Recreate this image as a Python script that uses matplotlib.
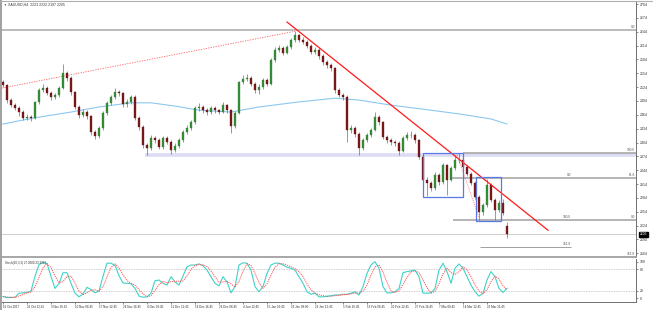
import matplotlib
matplotlib.use('Agg')
import matplotlib.pyplot as plt
import numpy as np
import pandas as pd
from matplotlib.patches import Rectangle

plt.rcParams['font.family'] = ['Liberation Sans', 'DejaVu Sans']

# ---------------- data ----------------
closes = [2529, 2496, 2485, 2479, 2470, 2457, 2459, 2457, 2492, 2518,
          2522, 2511, 2503, 2507, 2522, 2555, 2544, 2513, 2481, 2464,
          2470, 2461, 2427, 2418, 2435, 2468, 2490, 2503, 2513, 2511,
          2487, 2492, 2503, 2457, 2438, 2399, 2392, 2414, 2409, 2394,
          2414, 2405, 2388, 2396, 2409, 2427, 2435, 2448, 2479, 2481,
          2474, 2470, 2479, 2474, 2470, 2485, 2474, 2440, 2468, 2535,
          2542, 2544, 2531, 2518, 2524, 2539, 2531, 2583, 2604, 2609,
          2598, 2611, 2626, 2637, 2626, 2622, 2613, 2600, 2604, 2591,
          2578, 2572, 2565, 2518, 2507, 2503, 2431, 2435, 2422, 2392,
          2409, 2420, 2431, 2459, 2448, 2416, 2409, 2405, 2403, 2386,
          2414, 2420, 2420, 2409, 2373, 2323, 2316, 2305, 2334, 2318,
          2355, 2323, 2349, 2366, 2366, 2351, 2336, 2316, 2286, 2253,
          2269, 2312, 2280, 2258, 2273, 2251, 2205]
highs = [2540, 2531, 2500, 2490, 2483, 2474, 2466, 2463, 2495, 2522,
         2530, 2526, 2515, 2512, 2526, 2574, 2560, 2548, 2516, 2486,
         2476, 2474, 2464, 2432, 2440, 2472, 2494, 2508, 2522, 2518,
         2514, 2498, 2508, 2506, 2461, 2442, 2404, 2420, 2418, 2413,
         2419, 2418, 2409, 2402, 2414, 2431, 2442, 2453, 2484, 2490,
         2485, 2478, 2484, 2483, 2477, 2492, 2488, 2477, 2472, 2538,
         2550, 2552, 2548, 2535, 2530, 2544, 2543, 2588, 2610, 2616,
         2613, 2616, 2631, 2645, 2640, 2632, 2626, 2617, 2611, 2608,
         2595, 2583, 2577, 2568, 2522, 2512, 2506, 2441, 2440, 2426,
         2414, 2425, 2436, 2470, 2463, 2451, 2420, 2414, 2410, 2407,
         2418, 2426, 2428, 2424, 2412, 2376, 2330, 2320, 2340, 2338,
         2360, 2358, 2354, 2376, 2382, 2370, 2355, 2340, 2320, 2290,
         2274, 2324, 2316, 2284, 2280, 2282, 2232]
lows = [2524, 2490, 2480, 2474, 2462, 2452, 2453, 2450, 2455, 2488,
        2514, 2506, 2496, 2498, 2503, 2519, 2538, 2508, 2476, 2458,
        2460, 2455, 2420, 2412, 2414, 2432, 2464, 2486, 2498, 2505,
        2482, 2480, 2488, 2452, 2432, 2393, 2377, 2388, 2403, 2389,
        2390, 2400, 2379, 2384, 2392, 2405, 2423, 2431, 2444, 2473,
        2468, 2464, 2466, 2469, 2465, 2467, 2469, 2425, 2436, 2465,
        2530, 2537, 2526, 2512, 2510, 2520, 2526, 2528, 2579, 2600,
        2594, 2595, 2607, 2622, 2621, 2617, 2608, 2595, 2596, 2586,
        2573, 2566, 2560, 2512, 2502, 2497, 2405, 2425, 2417, 2378,
        2388, 2405, 2416, 2428, 2443, 2411, 2404, 2398, 2396, 2378,
        2383, 2410, 2414, 2404, 2368, 2316, 2288, 2298, 2302, 2313,
        2315, 2290, 2320, 2344, 2360, 2346, 2331, 2311, 2281, 2236,
        2248, 2265, 2275, 2237, 2254, 2246, 2197]
first_open = 2535
gap_opens = {126: 2223}

ma_idx = [0, 4, 9, 17, 24, 32, 37, 43, 49, 57, 64, 74, 83, 89, 97, 107, 114, 122, 126]
ma_val = [2444, 2451, 2459, 2470, 2481, 2490, 2490, 2483, 2474, 2470, 2481, 2492,
          2500, 2496, 2485, 2474, 2466, 2455, 2444]

stoch_main = [5, 2, 2, 3, 14, 15, 16, 20, 60, 92,
              98, 95, 60, 27, 40, 70, 70, 41, 14, 4,
              12, 30, 24, 15, 20, 60, 96, 96, 90, 62,
              42, 41, 40, 27, 6, 3, 4, 14, 48, 50,
              41, 36, 59, 45, 36, 61, 86, 91, 91, 94,
              89, 77, 59, 41, 34, 59, 45, 15, 32, 91,
              97, 96, 77, 32, 18, 32, 68, 91, 96, 96,
              91, 85, 82, 77, 59, 41, 18, 11, 14, 4,
              4, 6, 7, 9, 9, 11, 11, 14, 18, 9,
              32, 68, 91, 100, 82, 32, 15, 15, 18, 27,
              70, 73, 75, 77, 59, 14, 14, 15, 27, 77,
              96, 73, 41, 82, 94, 82, 59, 36, 18, 6,
              14, 50, 73, 59, 27, 16, 27]

price_ticks = [2704, 2674, 2644, 2614, 2584, 2554, 2524, 2494, 2464, 2434, 2404,
               2374, 2344, 2314, 2284, 2254, 2224, 2194, 2164]
stoch_ticks = [100, 80, 20, 0]
date_ticks = [0, 6, 12, 18, 24, 30, 36, 42, 48, 54, 60, 66, 72, 78, 85, 91, 97, 103, 109, 115, 121]
date_labels = ["16 Oct 2017", "26 Oct 12:45", "3 Nov 16:45", "10 Nov 08:45", "17 Nov 12:45",
               "24 Nov 16:45", "4 Dec 08:45", "11 Dec 12:45", "18 Dec 16:45", "28 Dec 08:45",
               "4 Jan 12:45", "15 Jan 16:45", "23 Jan 08:00", "29 Jan 12:45", "5 Feb 16:45",
               "13 Feb 08:45", "20 Feb 12:45", "27 Feb 16:45", "7 Mar 08:45", "14 Mar 12:45",
               "21 Mar 16:45"]

# fib / drawing objects (bar index, price)
fib_top = 2648
band_level = 2377
fib_lines = [  # (price, x_start, x_end)
    (2381, 115.0, 158.25),
    (2327, 112.25, 158.25),
    (2236, 112.5, 158.25),
    (2178, 119.25, 142.0),
]
fib_texts = [  # (x, price, text)
    (158.0, 2650, "0.0"), (158.0, 2383, "100.0"),
    (142.0, 2329, "0.0"), (158.0, 2329, "61.8"),
    (142.0, 2238, "100.0"), (158.0, 2238, "0.0"),
    (142.0, 2180, "161.8"), (158.0, 2158, "161.8"),
]
trend_red = ([71, 136.25], [2665, 2214])
dotted_up = ([-0.25, 73], [2522, 2645])
dotted_box = ([113.5, 119.25], [2377, 2236])
boxes = [(104.9, 115.1, 2285, 2381), (118.2, 124.5, 2235, 2329)]

# ---------------- figure ----------------
W, H = 653, 310
fig = plt.figure(figsize=(W / 100, H / 100), dpi=100)
fig.patch.set_facecolor('white')

def fx(px):
    return px / W

def fy(py):
    return 1 - py / H

ax = fig.add_axes([fx(2), fy(257), fx(636) - fx(2), fy(2) - fy(257)])
axs = fig.add_axes([fx(2), fy(301.5), fx(636) - fx(2), fy(259) - fy(301.5)])

n = len(closes)
x = np.arange(n)
opens = [first_open] + closes[:-1]
for k, v in gap_opens.items():
    opens[k] = v
o = np.array(opens, float)
c = np.array(closes, float)
h = np.array(highs, float)
l = np.array(lows, float)

xlim = (-0.25, 158.25)

# price line
ax.axhline(c[-1], color='#c8c8c8', lw=0.6, zorder=1)
# band and fib lines
ax.plot([35.5, 158.25], [band_level, band_level], color='#dcdcf4', lw=2.6, zorder=1,
        solid_capstyle='butt')
ax.plot(list(xlim), [fib_top, fib_top], color='#a8a8a8', lw=1.1, zorder=1)
for p, xa, xb in fib_lines:
    ax.plot([xa, xb], [p, p], color='#a0a0a0', lw=1.1 if xb > 150 else 0.7, zorder=1,
            solid_capstyle='butt')
for xt, p, t in fib_texts:
    ax.text(xt, p, t, fontsize=2.3, color='#555555', ha='right', va='bottom', zorder=5)

# MA
ax.plot(ma_idx, ma_val, color='#8cc8f0', lw=0.8, zorder=2)

# candles
ax.vlines(x, l, h, color='#606060', lw=0.45, zorder=3)
up = c >= o
body_lo = np.minimum(o, c)
body_h = np.maximum(np.abs(c - o), 1.0)
ax.bar(x[up], body_h[up], bottom=body_lo[up], width=0.5, color='#338f33',
       edgecolor='#3a7a3a', linewidth=0.25, zorder=4)
ax.bar(x[~up], body_h[~up], bottom=body_lo[~up], width=0.5, color='#7d1818',
       edgecolor='#601414', linewidth=0.25, zorder=4)

# trend lines
ax.plot(*trend_red, color='#ff1a1a', lw=0.9, zorder=5)
ax.plot(*dotted_up, color='#ff6060', lw=0.6, ls=(0, (1.5, 1.5)), zorder=2)
ax.plot(*dotted_box, color='#ff6060', lw=0.5, ls=(0, (1.5, 1.5)), zorder=5)
for xa, xb, pa, pb in boxes:
    ax.add_patch(Rectangle((xa, pa), xb - xa, pb - pa, fill=False,
                           edgecolor='#5a78e6', lw=0.9, zorder=5))

ax.set_xlim(*xlim)
ax.set_ylim(2156.0, 2708.4)
ax.set_xticks([])
ax.yaxis.tick_right()
ax.set_yticks(price_ticks)
ax.set_yticklabels([str(t) for t in price_ticks])
ax.tick_params(axis='y', labelsize=2.5, length=1.5, width=0.4, pad=1.2, colors='#333333')
for s in ['left', 'top']:
    ax.spines[s].set_visible(False)
ax.spines['right'].set_color('#707070')
ax.spines['right'].set_linewidth(0.7)
ax.spines['bottom'].set_color('#a0a0a0')
ax.spines['bottom'].set_linewidth(1.3)

# current price box
ax.text(1.006, (c[-1] - 2156.0) / (2708.4 - 2156.0), f"{int(c[-1])}", transform=ax.transAxes,
        fontsize=2.4, color='white', ha='left', va='center',
        bbox=dict(boxstyle='square,pad=0.25', fc='black', ec='black'))

# title
fig.text(fx(3), fy(5), '\u25bc', fontsize=2.0, color='#333333', va='center', ha='left')
fig.text(fx(8), fy(5), f"XAUUSD,H4  {int(o[-1])} {int(h[-1])} {int(l[-1])} {int(c[-1])}",
         fontsize=2.5, color='#333333', va='center', ha='left')

# ---------------- stochastic ----------------
sm = pd.Series(stoch_main, dtype=float)
sig = sm.rolling(3, min_periods=1).mean()
for lv in (80, 20):
    axs.axhline(lv, color='#b0b0b0', lw=0.5, ls=(0, (1.2, 1.2)), zorder=1)
axs.plot(x, sm.values, color='#3fd2c8', lw=0.8, zorder=3)
axs.plot(x, sig.values, color='#ff5050', lw=0.7, ls=(0, (1.2, 1.0)), zorder=4)
axs.set_xlim(*xlim)
axs.set_ylim(-8.7, 107.4)
axs.yaxis.tick_right()
axs.set_yticks(stoch_ticks)
axs.set_yticklabels([str(t) for t in stoch_ticks])
axs.tick_params(axis='y', labelsize=2.5, length=1.5, width=0.4, pad=1.2, colors='#333333')
axs.set_xticks(date_ticks)
axs.set_xticklabels(date_labels, ha='left')
axs.tick_params(axis='x', labelsize=2.2, length=1.5, width=0.4, pad=0.8, colors='#333333')
for s in ['left', 'top']:
    axs.spines[s].set_visible(False)
for s in ['right', 'bottom']:
    axs.spines[s].set_color('#707070')
    axs.spines[s].set_linewidth(0.7)
axs.text(0.004, 0.95, f"Stoch(10,3,3) {sm.values[-1]:.4f} {sig.values[-1]:.4f}",
         transform=axs.transAxes, fontsize=2.2, color='#333333', ha='left', va='top')

# outer frame (left and top borders)
fig.add_artist(plt.Line2D([fx(0.8), fx(0.8)], [0, 1], color='#a0a0a0', lw=1.4))
fig.add_artist(plt.Line2D([0, 1], [fy(0.5), fy(0.5)], color='#b0b0b0', lw=0.8))

fig.savefig('out.png', dpi=100, facecolor='white')
